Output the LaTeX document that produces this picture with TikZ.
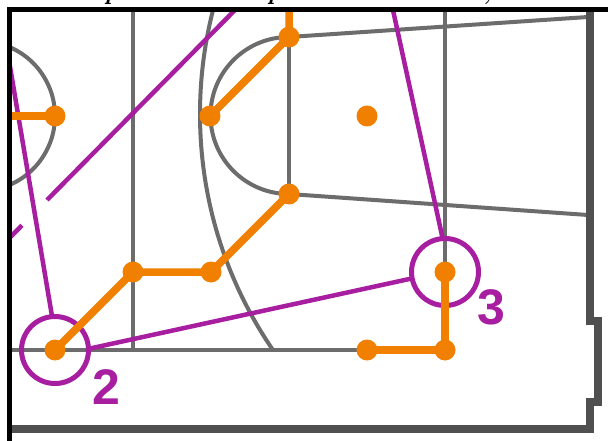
\documentclass[tikz,border=0pt]{standalone}
\usepackage{fontspec}
\newfontfamily\labelfont{Liberation Sans}
\definecolor{courtgray}{RGB}{108,108,108}
\definecolor{walldark}{RGB}{80,80,80}
\definecolor{runorange}{RGB}{242,128,0}
\definecolor{passpurple}{RGB}{168,30,160}
\begin{document}
\begin{tikzpicture}[x=1pt,y=-1pt,
  court/.style={draw=courtgray, line width=4pt},
  wall/.style={draw=walldark, line width=8pt, line join=miter},
  run/.style={draw=runorange, line width=7.5pt},
  dot/.style={circle, fill=runorange, inner sep=0pt, minimum size=21pt},
  pass/.style={draw=passpurple, line width=4.5pt},
  ring/.style={circle, draw=passpurple, line width=5pt, inner sep=0pt, minimum size=67pt, outer sep=0pt},
  num/.style={text=passpurple, font=\labelfont\bfseries\fontsize{50}{50}\selectfont, inner sep=0pt},
  frag/.style={font=\bfseries\itshape\fontsize{26}{26}\selectfont, inner sep=0pt, anchor=base west}
]
\useasboundingbox (0,0) rectangle (608,441);
\fill[white] (0,0) rectangle (608,441);

% title fragments (cut off at the top)
\node[frag] (f1) at (104,0) {p};
\node[frag] (f2) at (267,0) {p};
\node[frag] (f3) at (483,0) {,};

\begin{scope}
  \clip (11.7,11.5) rectangle (608,441);
  % court markings
  \draw[court] (-20,116) circle (75);
  \begin{scope}
    \clip (0,0) rectangle (585,350);
    \draw[court] (618,114) circle (418);
  \end{scope}
  \draw[court] (133,0) -- (133,350);
  \draw[court] (0,350) -- (367,350);
  \draw[court] (445,0) -- (445,272);
  \draw[court] (588,17) -- (289,37) arc[start angle=-90, end angle=-270, radius=78.5] -- (588,215);
  \draw[court] (289,37) -- (289,194);
  \draw[wall] (590,0) -- (590,321.3) -- (598.3,321.3) -- (598.3,402) -- (590,402) -- (590,429) -- (0,429);

  % passes
  \node[ring] (c2) at (55,350) {};
  \node[ring] (c3) at (445,272) {};
  \coordinate (p1) at (-1.2,0);
  \coordinate (p2a) at (0,247.5);
  \coordinate (p2b) at (22,225.3);
  \coordinate (p2c) at (47,200);
  \coordinate (p2d) at (245,-0.1);
  \coordinate (p3) at (390.8,0);
  \draw[pass] (c2.95) -- (p1);
  \draw[pass] (p2a) -- (p2b);
  \draw[pass] (p2c) -- (p2d);
  \draw[pass] (c3.94) -- (p3);
  \draw[pass] (c2.2) -- (c3.191);
  \node[num] (n2) at (106,387.5) {2};
  \node[num] (n3) at (491,307) {3};

  % player runs
  \node[dot] (d1) at (55,116) {};
  \node[dot] (d2) at (289,37) {};
  \node[dot] (d3) at (210,116) {};
  \node[dot] (d4) at (367,116) {};
  \node[dot] (d5) at (289,194) {};
  \node[dot] (d6) at (211,272) {};
  \node[dot] (d7) at (133,272) {};
  \node[dot] (d8) at (55,350) {};
  \node[dot] (d9) at (445,272) {};
  \node[dot] (d10) at (445,350) {};
  \node[dot] (d11) at (367,350) {};
  \coordinate (e1) at (0,116);
  \coordinate (e2) at (289,0);
  \draw[run] (e1) -- (d1.center);
  \draw[run] (e2) -- (d2.center) -- (d3.center);
  \draw[run] (d5.center) -- (d6.center) -- (d7.center) -- (d8.center);
  \draw[run] (d9.center) -- (d10.center) -- (d11.center);
\end{scope}

% frame
\draw[black, line width=4.5pt] (9.5,441) -- (9.5,9.3) -- (608,9.3);
\end{tikzpicture}
\end{document}
